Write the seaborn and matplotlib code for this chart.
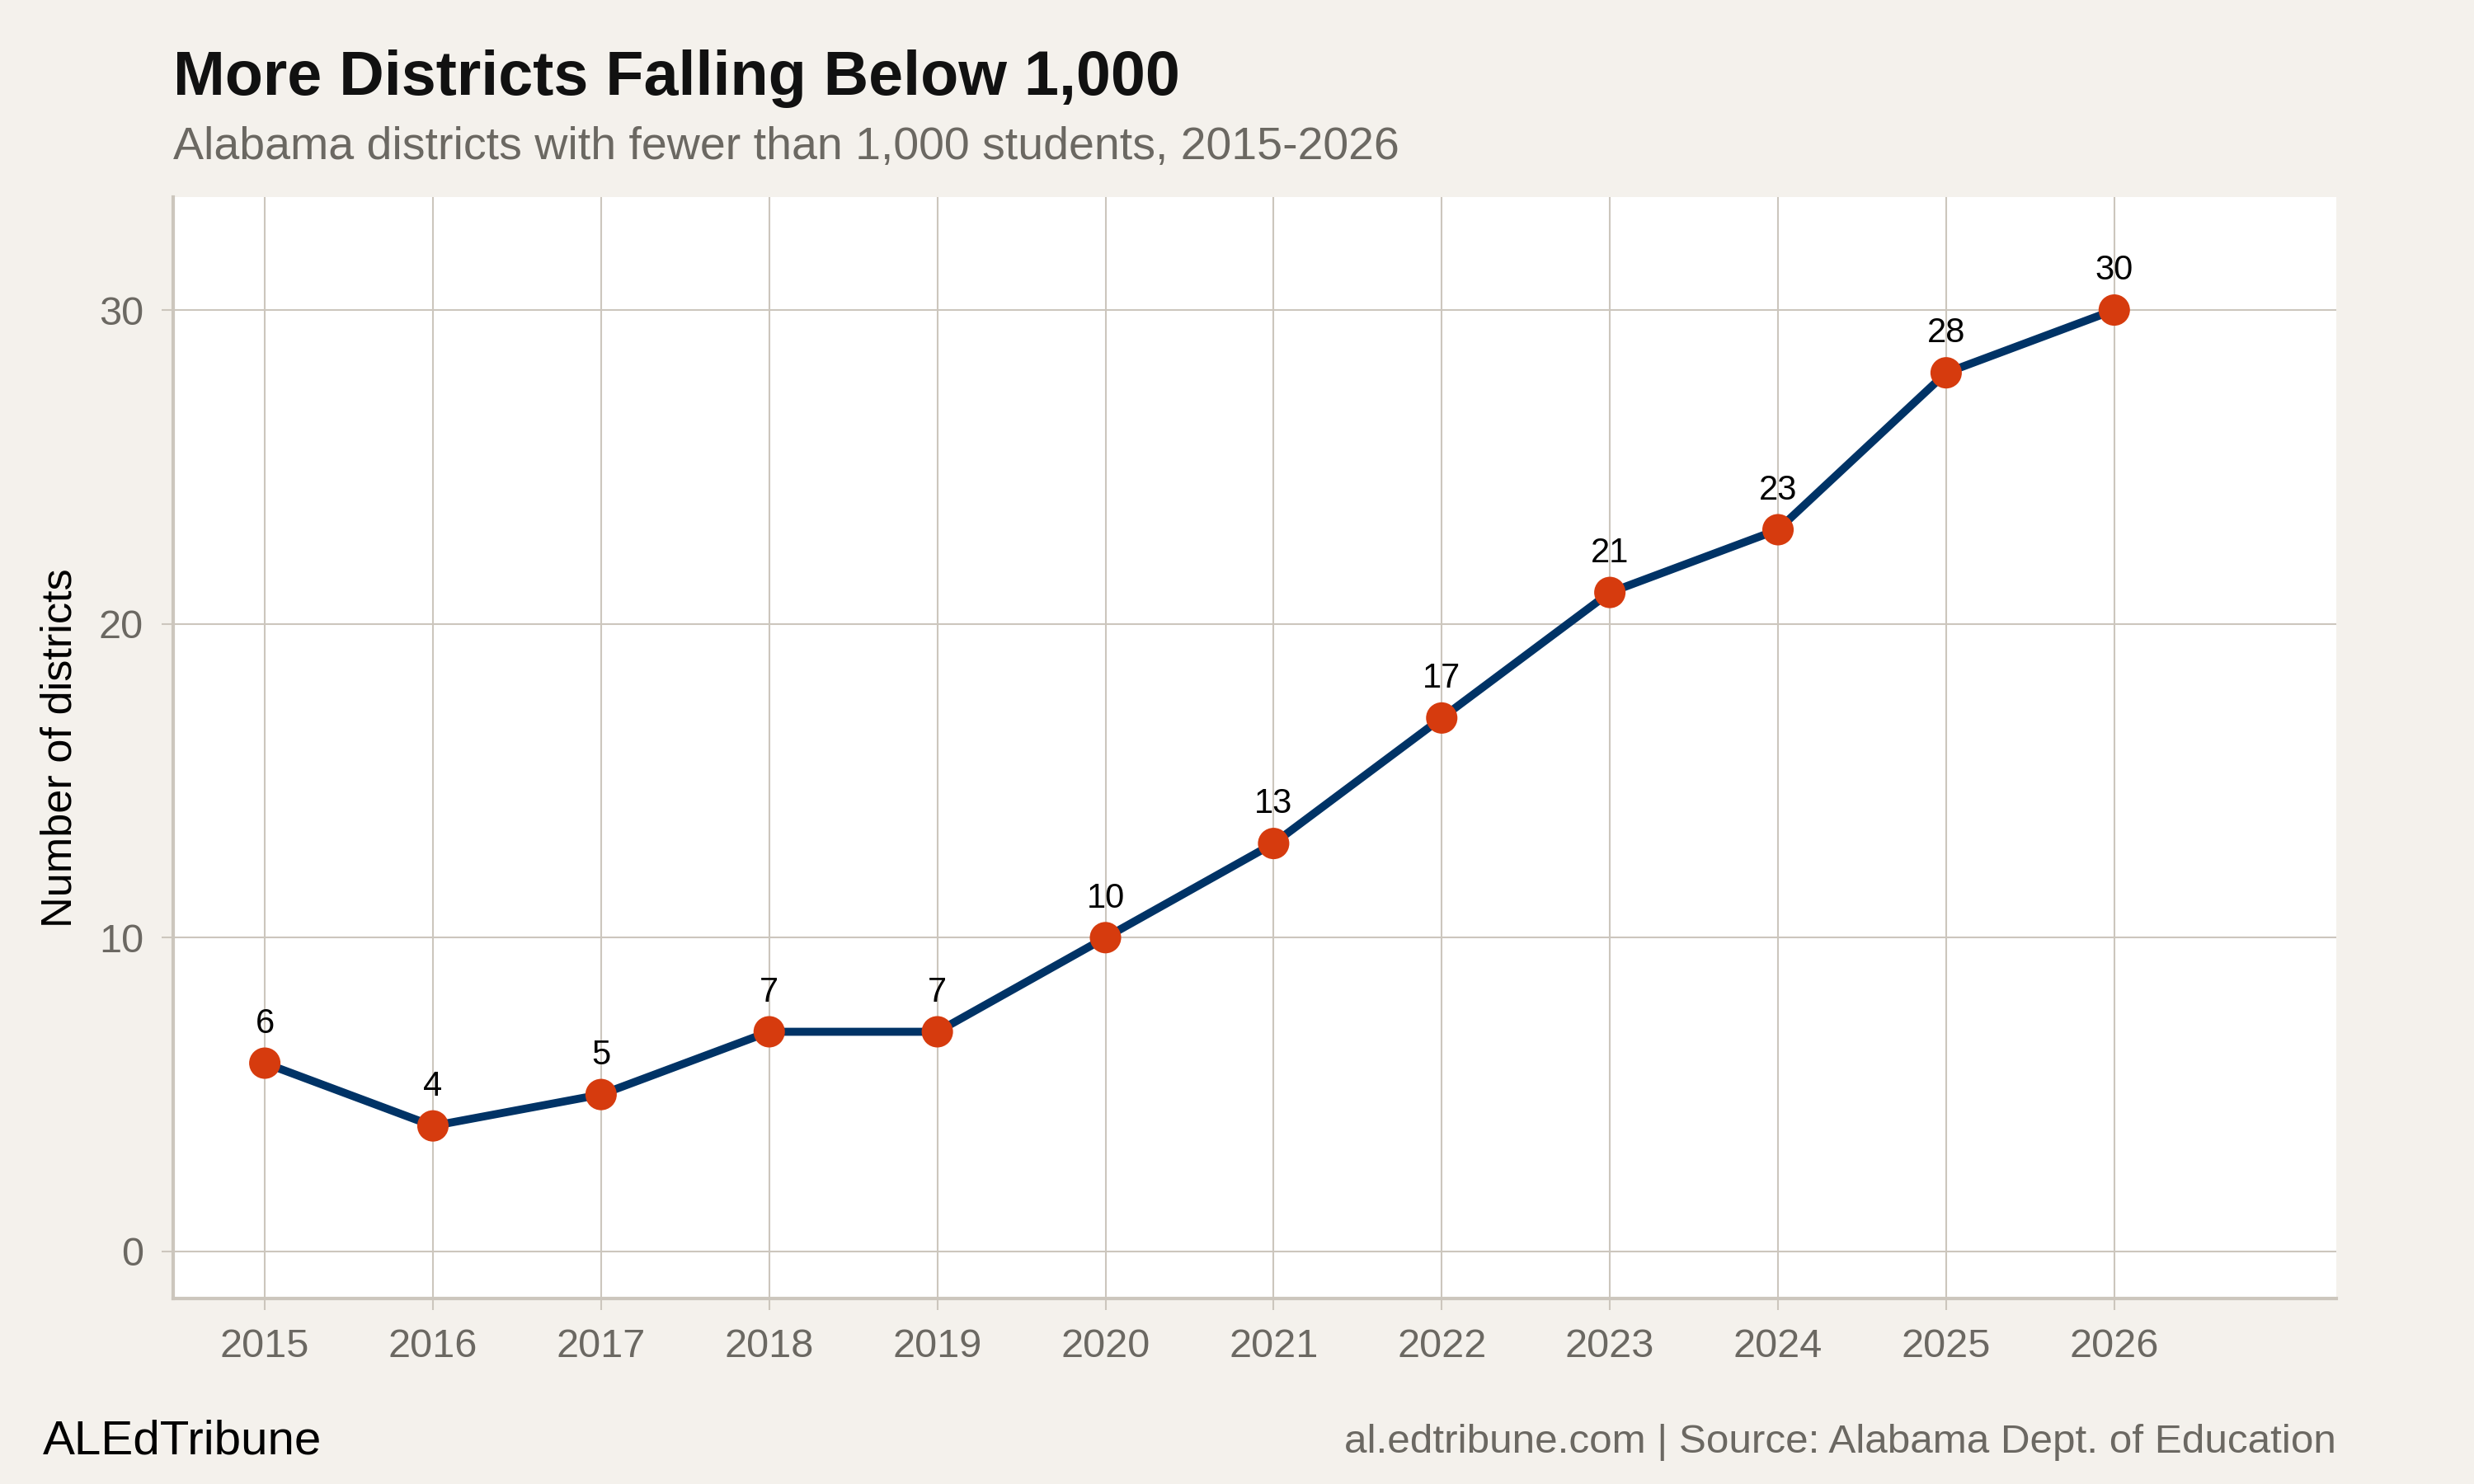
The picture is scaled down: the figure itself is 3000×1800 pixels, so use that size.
import matplotlib
matplotlib.use("Agg")
import matplotlib.pyplot as plt
import seaborn as sns
import pandas as pd

years = [2015, 2016, 2017, 2018, 2019, 2020, 2021, 2022, 2023, 2024, 2025, 2026]
districts = [6, 4, 5, 7, 7, 10, 13, 17, 21, 23, 28, 30]
y_ticks = [0, 10, 20, 30]

title = "More Districts Falling Below 1,000"
subtitle = "Alabama districts with fewer than 1,000 students, 2015-2026"
y_label = "Number of districts"
footer_left = "ALEdTribune"
footer_right = "al.edtribune.com | Source: Alabama Dept. of Education"

BG = "#F4F1EC"
GRID = "#CCC6BD"
LINE = "#003366"
DOT = "#D63B0E"
GRAY = "#6B6862"

sns.set_theme(style="whitegrid")
plt.rcParams['font.family'] = ['Liberation Sans', 'DejaVu Sans']

df = pd.DataFrame({"year": years, "n": districts})

fig = plt.figure(figsize=(15, 9), dpi=200, facecolor=BG)
ax = fig.add_axes([0.07, 0.125, 0.8743, 0.7422])
ax.set_facecolor("white")

sns.lineplot(data=df, x="year", y="n", ax=ax, color=LINE, linewidth=3.5, zorder=3)
sns.scatterplot(data=df, x="year", y="n", ax=ax, color=DOT, s=13.7**2, edgecolor="none", zorder=4)

for x, y in zip(years, districts):
    ax.annotate(str(y), (x, y), xytext=(0, 10), textcoords="offset points",
                ha="center", va="bottom", fontsize=15, color="black", zorder=5)

ax.set_xlim(2014.455, 2027.32)
ax.set_ylim(-1.5, 33.6)
ax.set_xticks(years)
ax.set_xticklabels([str(y) for y in years])
ax.set_yticks(y_ticks)

ax.grid(True, color=GRID, linewidth=0.75)
ax.set_axisbelow(True)
for s in ["top", "right"]:
    ax.spines[s].set_visible(False)
for s in ["left", "bottom"]:
    ax.spines[s].set_visible(True)
    ax.spines[s].set_color(GRID)
    ax.spines[s].set_linewidth(1.5)

ax.tick_params(axis="both", which="both", length=5, width=0.75, color=GRID,
               labelsize=17.5, labelcolor=GRAY, pad=8, bottom=True, left=True)
ax.set_xlabel("")
ax.set_ylabel(y_label, fontsize=18.8, color="black", labelpad=8)

fig.text(0.07, 1 - 115 / 1800, title, fontsize=27.2, fontweight="bold", color="#111111",
         ha="left", va="baseline")
fig.text(0.07, 1 - 193 / 1800, subtitle, fontsize=20, color=GRAY, ha="left", va="baseline")
fig.text(52 / 3000, 1 - 1764 / 1800, footer_left, fontsize=21, color="black", ha="left", va="baseline")
fig.text(2833 / 3000, 1 - 1762 / 1800, footer_right, fontsize=17.8, color=GRAY, ha="right", va="baseline")

fig.savefig("out.png", dpi=200, facecolor=BG)
